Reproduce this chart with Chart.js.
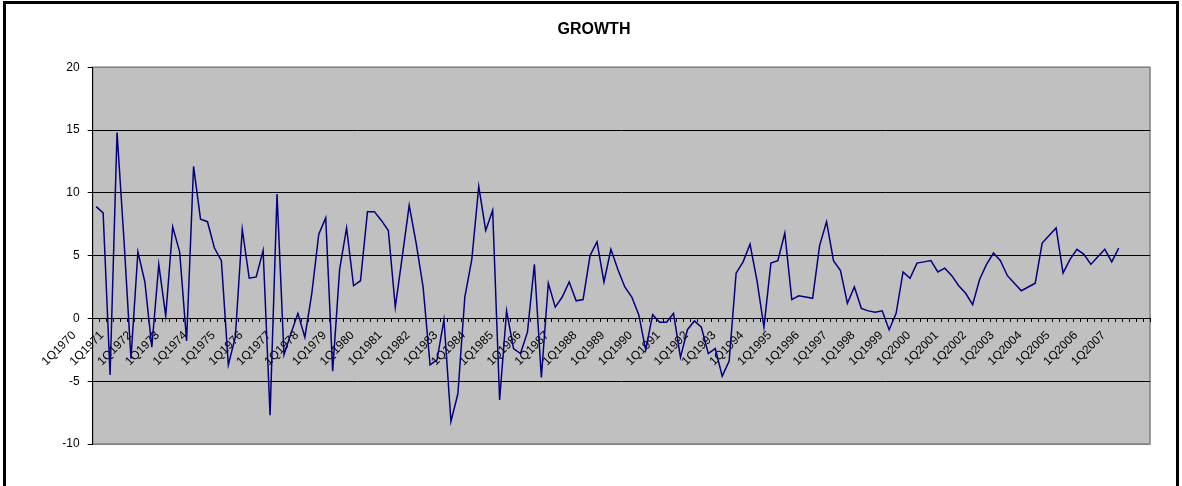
<!DOCTYPE html>
<html><head><meta charset="utf-8">
<script src="https://cdn.jsdelivr.net/npm/chart.js@4.4.0/dist/chart.umd.min.js"></script>
<style>
html,body{margin:0;padding:0;background:#fff;overflow:hidden;}
#wrap{position:relative;width:1182px;height:486px;background:#fff;}
#c{position:absolute;left:0;top:0;}
#frame{position:absolute;left:3px;top:1px;width:1170px;height:600px;border:3px solid #000;pointer-events:none;}
</style></head><body>
<div id="wrap"><canvas id="c" width="1182" height="486"></canvas><div id="frame"></div></div>
<script>
const years = [1970,1971,1972,1973,1974,1975,1976,1977,1978,1979,1980,1981,1982,1983,1984,1985,1986,1987,1988,1989,1990,1991,1992,1993,1994,1995,1996,1997,1998,1999,2000,2001,2002,2003,2004,2005,2006,2007];
const quarters = ['1Q','2Q','3Q','4Q'];
const categories = [];
years.forEach(y => quarters.forEach(q => categories.push(q + y)));

const growth = [
  8.9, 8.4, -4.5, 14.8, 6.2, -3.2, 5.3, 2.9, -2.3, 4.3,
  0.2, 7.3, 5.3, -1.8, 12.1, 7.9, 7.7, 5.6, 4.6, -3.7,
  -1.5, 7.1, 3.2, 3.3, 5.4, -7.7, 9.9, -2.9, -1.2, 0.4,
  -1.5, 2.0, 6.7, 8.0, -4.2, 3.9, 7.2, 2.6, 3.0, 8.5,
  8.5, 7.8, 7.0, 0.9, 4.9, 9.0, 6.0, 2.5, -3.7, -3.3,
  -0.1, -8.2, -6.0, 1.7, 4.7, 10.5, 7.0, 8.6, -6.5, 0.6,
  -2.4, -2.8, -1.1, 4.3, -4.7, 2.8, 0.9, 1.7, 2.9, 1.4,
  1.5, 5.0, 6.1, 2.9, 5.5, 3.9, 2.5, 1.7, 0.3, -2.5,
  0.3, -0.3, -0.3, 0.4, -3.1, -0.9, -0.2, -0.7, -2.8, -2.4,
  -4.6, -3.4, 3.6, 4.5, 5.9, 3.0, -0.7, 4.4, 4.6, 6.8,
  1.5, 1.8, 1.7, 1.6, 5.8, 7.7, 4.6, 3.8, 1.2, 2.5,
  0.8, 0.6, 0.5, 0.6, -0.9, 0.4, 3.7, 3.2, 4.4, 4.5,
  4.6, 3.7, 4.0, 3.4, 2.6, 2.0, 1.1, 3.1, 4.3, 5.2,
  4.6, 3.4, 2.8, 2.2, 2.5, 2.8, 6.0, 6.6, 7.2, 3.6,
  4.7, 5.5, 5.1, 4.3, 4.9, 5.5, 4.5, 5.6
];
const yMin = -10, yMax = 20, yStep = 5;
const labelEvery = 4;

const plotBg = {
  id: 'plotBg',
  beforeDraw(chart) {
    const {ctx, chartArea: a} = chart;
    ctx.save();
    ctx.fillStyle = '#C0C0C0';
    ctx.fillRect(a.left, a.top, a.right - a.left, a.bottom - a.top);
    ctx.strokeStyle = '#808080';
    ctx.lineWidth = 1.5;
    ctx.strokeRect(a.left, a.top, a.right - a.left, a.bottom - a.top);
    ctx.restore();
  }
};

new Chart(document.getElementById('c'), {
  type: 'line',
  data: {
    labels: categories,
    datasets: [{
      data: growth,
      borderColor: '#000080',
      borderWidth: 1.5,
      pointRadius: 0,
      fill: false,
      tension: 0
    }]
  },
  options: {
    responsive: false,
    animation: false,
    devicePixelRatio: 1,
    layout: {padding: {left: 38, right: 32, top: 0, bottom: 42}},
    plugins: {
      legend: {display: false},
      tooltip: {enabled: false},
      title: {
        display: true, text: 'GROWTH', color: '#000',
        font: {family: 'Liberation Sans', size: 16, weight: 'bold'},
        padding: {top: 20, bottom: 28}
      }
    },
    scales: {
      x: {
        type: 'category',
        offset: true,
        position: {y: 0},
        grid: {display: true, drawOnChartArea: false, drawTicks: true, tickLength: 3, tickColor: '#000', offset: true},
        border: {display: true, color: '#000', width: 1},
        ticks: {
          autoSkip: false, maxRotation: 45, minRotation: 45, padding: 7, labelOffset: -22,
          color: '#000', font: {family: 'Liberation Sans', size: 12},
          callback: (v, i) => (i % labelEvery === 0 ? categories[i] : '')
        }
      },
      y: {
        min: yMin, max: yMax,
        ticks: {stepSize: yStep, color: '#000', font: {family: 'Liberation Sans', size: 12}, padding: 8},
        grid: {
          color: (c) => (c.tick && (c.tick.value === yMax || c.tick.value === yMin)) ? '#808080' : '#000000',
          lineWidth: 1, tickLength: 5, tickColor: '#000', drawTicks: true
        },
        border: {display: true, color: '#000', width: 1},
        afterFit(scale) { scale.width = 54.7; }
      }
    }
  },
  plugins: [plotBg]
});
</script>
</body></html>
